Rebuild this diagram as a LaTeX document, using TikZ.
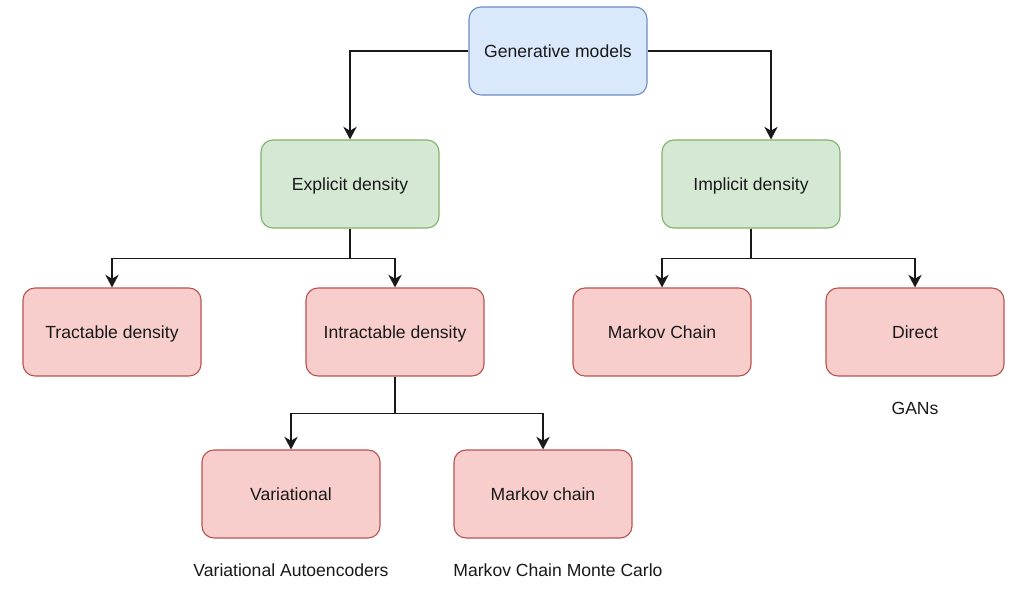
\documentclass[tikz,border=0pt]{standalone}
\usepackage{fontspec}
\setmainfont{Liberation Sans}
\usepackage{tikz}
\usetikzlibrary{arrows.meta}

\definecolor{BlueFill}{HTML}{DAE8FC}
\definecolor{BlueLine}{HTML}{6C8EBF}
\definecolor{GreenFill}{HTML}{D5E8D4}
\definecolor{GreenLine}{HTML}{82B366}
\definecolor{RedFill}{HTML}{F8CECC}
\definecolor{RedLine}{HTML}{B85450}

\begin{document}
\begin{tikzpicture}[x=0.025cm,y=-0.025cm]
  \tikzstyle{BoxStyle}=[rectangle,rounded corners=0.3cm,line width=0.8pt,
    minimum width=4.45cm,minimum height=2.2cm,text height=2ex,text depth=0.2ex,
    font=\fontsize{12.5}{15}\selectfont,text=black!90]
  \tikzstyle{RootStyle}=[BoxStyle,draw=BlueLine,fill=BlueFill]
  \tikzstyle{MidStyle}=[BoxStyle,draw=GreenLine,fill=GreenFill]
  \tikzstyle{LeafStyle}=[BoxStyle,draw=RedLine,fill=RedFill]
  \tikzstyle{NoteStyle}=[font=\fontsize{12.5}{15}\selectfont,text=black!90]
  \tikzstyle{EdgeStyle}=[line width=0.95pt,black!90,
    -{Stealth[length=9pt,width=9.5pt,inset=2.8pt]}]
  \useasboundingbox (0,0) rectangle (1029,592);
  \node[RootStyle] (Gen) at (558,51) {Generative models};
  \node[MidStyle] (Exp) at (350,184) {Explicit density};
  \node[MidStyle] (Imp) at (751,184) {Implicit density};
  \node[LeafStyle] (Tra) at (112,332) {Tractable density};
  \node[LeafStyle] (Int) at (395,332) {Intractable density};
  \node[LeafStyle] (MC) at (662,332) {Markov Chain};
  \node[LeafStyle] (Dir) at (915,332) {Direct};
  \node[LeafStyle] (Var) at (291,494) {Variational};
  \node[LeafStyle] (MCh) at (543,494) {Markov chain};
  \node[NoteStyle] (GAN) at (915,408) {GANs};
  \node[NoteStyle] (VAE) at (291,570) {Variational Autoencoders};
  \node[NoteStyle] (MCMC) at (558,570) {Markov Chain Monte Carlo};
  \draw[EdgeStyle] (Gen.west) -| (Exp.north);
  \draw[EdgeStyle] (Gen.east) -| ([xshift=0.5cm]Imp.north);
  \draw[EdgeStyle] (Exp.south) -- ++(0,30) -| (Tra.north);
  \draw[EdgeStyle] (Exp.south) -- ++(0,30) -| (Int.north);
  \draw[EdgeStyle] (Imp.south) -- ++(0,30) -| (MC.north);
  \draw[EdgeStyle] (Imp.south) -- ++(0,30) -| (Dir.north);
  \draw[EdgeStyle] (Int.south) -- ++(0,37) -| (Var.north);
  \draw[EdgeStyle] (Int.south) -- ++(0,37) -| (MCh.north);
%  \node[NoteStyle] at (0,0) {};
\end{tikzpicture}
\end{document}
